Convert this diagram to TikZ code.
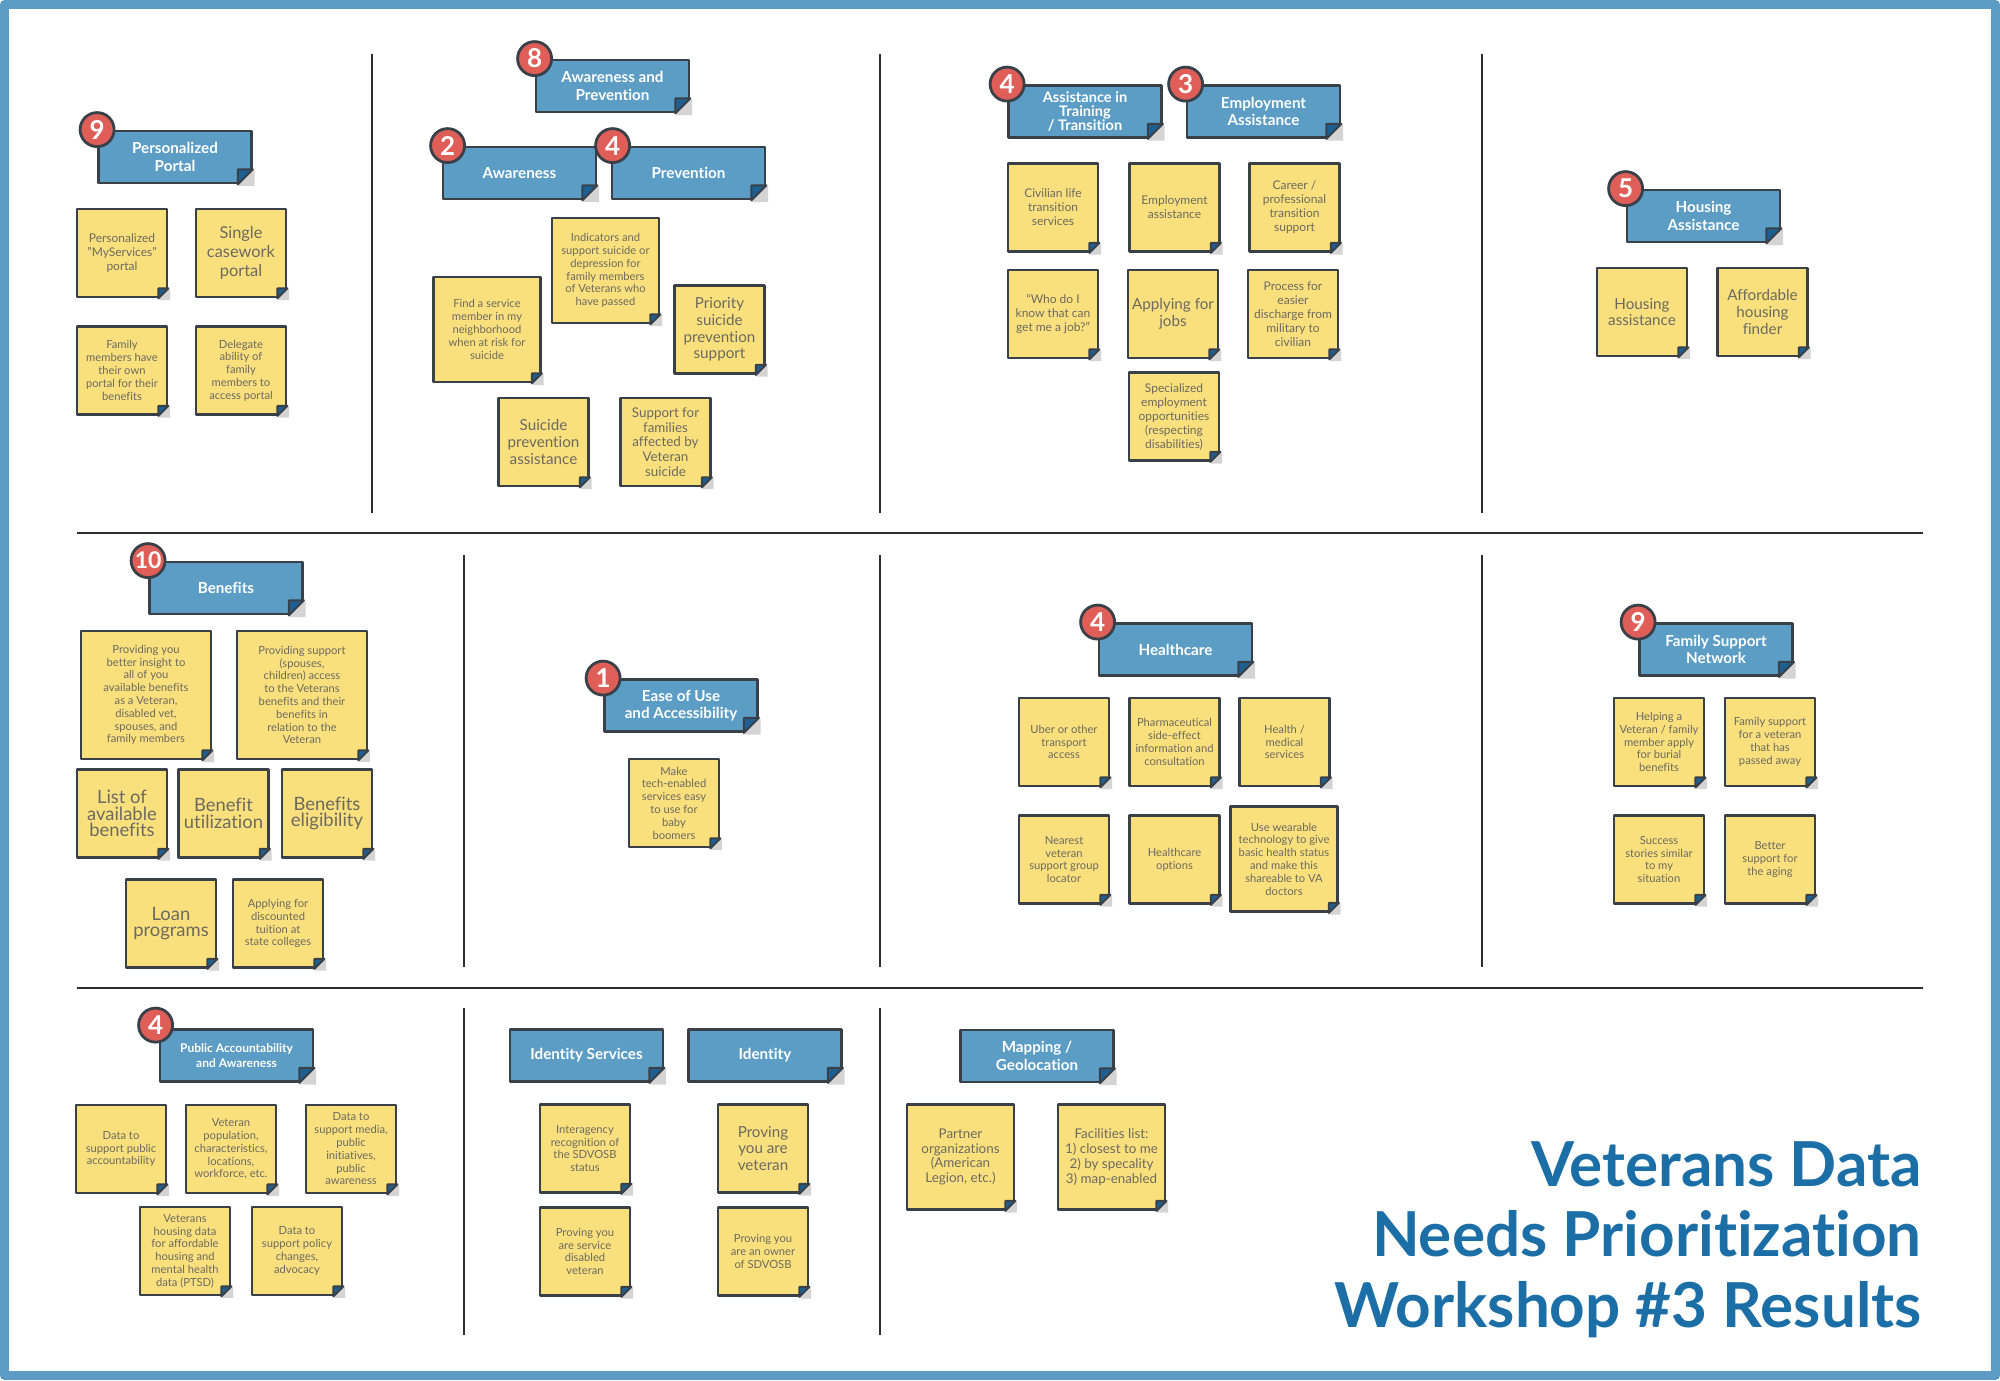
\documentclass[tikz,border=0pt]{standalone}
\usepackage{fontspec}
\setmainfont{Lato}[Ligatures={TeX,NoCommon}]

\definecolor{edge}{RGB}{58,64,72}
\definecolor{noteyellow}{RGB}{250,224,125}
\definecolor{notetext}{RGB}{108,106,96}
\definecolor{headblue}{RGB}{92,157,197}
\definecolor{flapblue}{RGB}{30,95,145}
\definecolor{badgered}{RGB}{223,95,88}
\definecolor{shadowgray}{RGB}{212,212,212}
\definecolor{divgray}{RGB}{45,45,45}
\definecolor{frameblue}{RGB}{91,155,196}
\definecolor{titleblue}{RGB}{27,111,166}

\tikzset{
  note/.style={draw=edge, line width=1.4pt, fill=noteyellow, text=notetext, align=center,
    inner sep=0pt, minimum width=45pt, minimum height=44pt},
  big/.style={minimum width=53.5pt, minimum height=52.5pt},
  huge/.style={minimum width=65pt, minimum height=64pt},
  txtS/.style={font=\fontsize{5.6}{6.4}\selectfont},
  txtM/.style={font=\fontsize{6}{7}\selectfont},
  txtML/.style={font=\fontsize{6.7}{7.4}\selectfont},
  txtL/.style={font=\fontsize{7.6}{8.3}\selectfont},
  txtXL/.style={font=\fontsize{8.2}{9.5}\selectfont},
  txtXXL/.style={font=\fontsize{9.2}{8.4}\selectfont},
  header/.style={draw=edge, line width=1.4pt, fill=headblue, text=white, align=center,
    font=\bfseries\fontsize{7.6}{8.8}\selectfont, inner sep=0pt,
    minimum width=76.5pt, minimum height=26pt},
  badge/.style={circle, draw=edge, line width=1.4pt, fill=badgered, text=white,
    font=\bfseries\fontsize{13}{13}\selectfont, minimum size=17pt, inner sep=0pt},
  divider/.style={draw=divgray, line width=1.25pt},
  title/.style={text=titleblue, anchor=base east, inner sep=0pt,
    font=\bfseries\fontsize{31}{35}\selectfont},
}

% folded corner of a sticky note or a header
\newcommand{\curlcorner}[2]{%
  \fill[shadowgray] ([xshift=-#2]#1.south east) -- ([yshift=#2]#1.south east)
    -- ([xshift=0.9pt,yshift=#2-0.6pt]#1.south east) -- ([xshift=0.9pt,yshift=-0.9pt]#1.south east)
    -- ([xshift=-#2+0.6pt,yshift=-0.9pt]#1.south east) -- cycle;
  \filldraw[fill=flapblue, draw=edge, line width=1pt] ([xshift=-#2]#1.south east)
    -- ([yshift=#2]#1.south east) -- ([xshift=-#2,yshift=#2]#1.south east) -- cycle;
}

\begin{document}
\begin{tikzpicture}[x=0.5pt, y=-0.5pt, line join=round]
	\useasboundingbox (0,0) rectangle (2000,1380);
	\fill[white] (0,0) rectangle (2000,1380);
	\draw[frameblue, line width=4.5pt] (4.5,4.5) rectangle (1995.5,1375.5);

	% grid of dividers
	\draw[divider] (77,533) -- (1923,533);
	\draw[divider] (77,988) -- (1923,988);
	\foreach \x in {372,880,1482} \draw[divider] (\x,54) -- (\x,513);
	\foreach \x in {464,880,1482} \draw[divider] (\x,555) -- (\x,967);
	\foreach \x in {464,880} \draw[divider] (\x,1008) -- (\x,1335);

	% personalized portal
	\node[header] (hPortal) at (175,157) {Personalized\\Portal};
	\node[note, txtM] (pp1) at (122,253) {Personalized\\"MyServices"\\portal};
	\node[note, txtXL] (pp2) at (241,253) {Single\\casework\\portal};
	\node[note, txtS] (pp3) at (122,370.5) {Family\\members have\\their own\\portal for their\\benefits};
	\node[note, txtS] (pp4) at (241,370.5) {Delegate\\ability of\\family\\members to\\access portal};

	% awareness and prevention
	\node[header] (hAwPrev) at (612.5,86) {Awareness and\\Prevention};
	\node[header] (hAware) at (519.5,173) {Awareness};
	\node[header] (hPrev) at (688.5,173) {Prevention};
	\node[note, big, txtS] (ap1) at (605.5,270.5) {Indicators and\\support suicide or\\depression for\\family members\\of Veterans who\\have passed};
	\node[note, big, txtS] (ap2) at (487,329.5) {Find a service\\member in my\\neighborhood\\when at risk for\\suicide};
	\node[note, txtL] (ap3) at (719.5,329.5) {Priority\\suicide\\prevention\\support};
	\node[note, txtL] (ap4) at (543.5,442) {Suicide\\prevention\\assistance};
	\node[note, txtML] (ap5) at (665.5,442) {Support for\\families\\affected by\\Veteran\\suicide};

	% training and employment
	\node[header, font=\bfseries\fontsize{7.3}{7}\selectfont] (hTrain) at (1085,111.5) {Assistance in\\Training\\/ Transition};
	\node[header] (hEmploy) at (1263.5,111.5) {Employment\\Assistance};
	\node[note, txtM] (tr1) at (1053,207.5) {Civilian life\\transition\\services};
	\node[note, txtM] (tr2) at (1174.5,207.5) {Employment\\assistance};
	\node[note, txtM] (tr3) at (1294.5,207.5) {Career /\\professional\\transition\\support};
	\node[note, txtM] (tr4) at (1053,314) {``Who do I\\know that can\\get me a job?''};
	\node[note, txtL] (tr5) at (1173,314) {Applying for\\jobs};
	\node[note, txtM] (tr6) at (1293,314) {Process for\\easier\\discharge from\\military to\\civilian};
	\node[note, txtM] (tr7) at (1174,416.5) {Specialized\\employment\\opportunities\\(respecting\\disabilities)};

	% housing
	\node[header] (hHousing) at (1703.5,216) {Housing\\Assistance};
	\node[note, txtL] (ho1) at (1642,312) {Housing\\assistance};
	\node[note, txtL] (ho2) at (1762.5,312) {Affordable\\housing\\finder};

	% benefits
	\node[header] (hBenefits) at (226,588) {Benefits};
	\node[note, huge, txtS] (be1) at (146,695) {Providing you\\better insight to\\all of you\\available benefits\\as a Veteran,\\disabled vet,\\spouses, and\\family members};
	\node[note, huge, txtS] (be2) at (302,695) {Providing support\\(spouses,\\children) access\\to the Veterans\\benefits and their\\benefits in\\relation to the\\Veteran};
	\node[note, txtXXL] (be3) at (122,813.5) {List of\\available\\benefits};
	\node[note, txtXXL] (be4) at (223.5,813.5) {Benefit\\utilization};
	\node[note, txtXXL] (be5) at (327,813.5) {Benefits\\eligibility};
	\node[note, txtXXL] (be6) at (171,923.5) {Loan\\programs};
	\node[note, txtS] (be7) at (278,923.5) {Applying for\\discounted\\tuition at\\state colleges};

	% ease of use
	\node[header] (hEase) at (681,705.5) {Ease of Use\\and Accessibility};
	\node[note, txtS] (ea1) at (674,803) {Make\\tech-enabled\\services easy\\to use for\\baby\\boomers};

	% healthcare
	\node[header] (hHealth) at (1175.5,649.5) {Healthcare};
	\node[note, txtS] (hc1) at (1064,742) {Uber or other\\transport\\access};
	\node[note, txtS] (hc2) at (1174.5,742) {Pharmaceutical\\side-effect\\information and\\consultation};
	\node[note, txtS] (hc3) at (1284.5,742) {Health /\\medical\\services};
	\node[note, txtS] (hc4) at (1064,859.5) {Nearest\\veteran\\support group\\locator};
	\node[note, txtS] (hc5) at (1174.5,859.5) {Healthcare\\options};
	\node[note, big, txtS] (hc6) at (1284,859) {Use wearable\\technology to give\\basic health status\\and make this\\shareable to VA\\doctors};

	% family support
	\node[header] (hFamily) at (1716,649.5) {Family Support\\Network};
	\node[note, txtS] (fs1) at (1659,742) {Helping a\\Veteran / family\\member apply\\for burial\\benefits};
	\node[note, txtS] (fs2) at (1770,742) {Family support\\for a veteran\\that has\\passed away};
	\node[note, txtS] (fs3) at (1659,859.5) {Success\\stories similar\\to my\\situation};
	\node[note, txtS] (fs4) at (1770,859.5) {Better\\support for\\the aging};

	% public accountability
	\node[header, font=\bfseries\fontsize{6}{7.5}\selectfont] (hPublic) at (236.5,1055.5) {Public Accountability\\and Awareness};
	\node[note, txtS] (pa1) at (121,1149) {Data to\\support public\\accountability};
	\node[note, txtS] (pa2) at (231,1149) {Veteran\\population,\\characteristics,\\locations,\\workforce, etc.};
	\node[note, txtS] (pa3) at (351,1149) {Data to\\support media,\\public\\initiatives,\\public\\awareness};
	\node[note, txtS] (pa4) at (185,1251) {Veterans\\housing data\\for affordable\\housing and\\mental health\\data (PTSD)};
	\node[note, txtS] (pa5) at (297,1251) {Data to\\support policy\\changes,\\advocacy};

	% identity
	\node[header] (hIdServ) at (586.5,1055.5) {Identity Services};
	\node[header] (hIdent) at (765,1055.5) {Identity};
	\node[note, txtS] (id1) at (585,1148.5) {Interagency\\recognition of\\the SDVOSB\\status};
	\node[note, txtL] (id2) at (763,1148.5) {Proving\\you are\\veteran};
	\node[note, txtS] (id3) at (585,1251.5) {Proving you\\are service\\disabled\\veteran};
	\node[note, txtS] (id4) at (763,1251.5) {Proving you\\are an owner\\of SDVOSB};

	% mapping
	\node[header] (hMap) at (1037,1056) {Mapping /\\Geolocation};
	\node[note, big, txtML] (mg1) at (960.5,1157) {Partner\\organizations\\(American\\Legion, etc.)};
	\node[note, big, txtML] (mg2) at (1111.5,1157) {Facilities list:\\1) closest to me\\2) by specality\\3) map-enabled};

	% folded corners
	\foreach \n in {hPortal,hAwPrev,hAware,hPrev,hTrain,hEmploy,hHousing,hBenefits,hEase,hHealth,hFamily,hPublic,hIdServ,hIdent,hMap}
		{\curlcorner{\n}{7.5pt}}
	\foreach \n in {pp1,pp2,pp3,pp4,ap1,ap2,ap3,ap4,ap5,tr1,tr2,tr3,tr4,tr5,tr6,tr7,ho1,ho2,be1,be2,be3,be4,be5,be6,be7,ea1,hc1,hc2,hc3,hc4,hc5,hc6,fs1,fs2,fs3,fs4,pa1,pa2,pa3,pa4,pa5,id1,id2,id3,id4,mg1,mg2}
		{\curlcorner{\n}{5pt}}

	% vote badges
	\node[badge] (bPortal) at (hPortal.north west) {9};
	\node[badge] (bAwPrev) at (hAwPrev.north west) {8};
	\node[badge] (bAware) at ([xshift=3pt]hAware.north west) {2};
	\node[badge] (bPrev) at ([xshift=1pt]hPrev.north west) {4};
	\node[badge] (bTrain) at (hTrain.north west) {4};
	\node[badge] (bEmploy) at (hEmploy.north west) {3};
	\node[badge] (bHousing) at (hHousing.north west) {5};
	\node[badge, font=\bfseries\fontsize{11.5}{11.5}\selectfont] (bBenefits) at (hBenefits.north west) {10};
	\node[badge] (bEase) at (hEase.north west) {1};
	\node[badge] (bHealth) at (hHealth.north west) {4};
	\node[badge] (bFamily) at (hFamily.north west) {9};
	\node[badge] (bPublic) at ([xshift=-1.5pt,yshift=1.5pt]hPublic.north west) {4};

	% title
	\node[title] (t1) at (1922,1186) {Veterans Data};
	\node[title] (t2) at (1922,1256) {Needs Prioritization};
	\node[title] (t3) at (1922,1327) {Workshop \#3 Results};
\end{tikzpicture}
\end{document}
